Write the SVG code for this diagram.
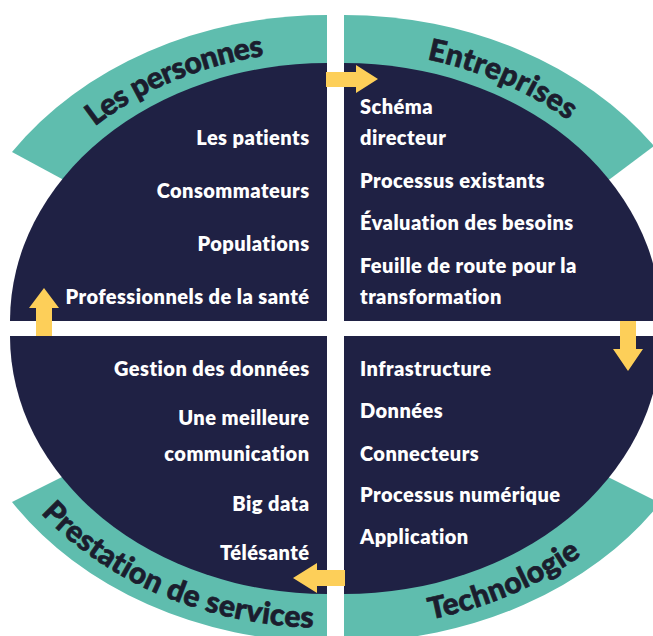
<svg xmlns="http://www.w3.org/2000/svg" width="653" height="636" viewBox="0 0 653 636">
  <style>
    .band { fill: #5fbdae; }
    .core { fill: #1f2144; }
    .item { fill: #ffffff; font-family: Lato, "Liberation Sans", sans-serif; font-weight: 800; font-size: 20px; letter-spacing: 0.45px; }
    .left { text-anchor: end; }
    .title { fill: #1b1d2e; stroke: #1b1d2e; stroke-width: 0.7px; font-family: Lato, "Liberation Sans", sans-serif; font-weight: 900; font-size: 30px; letter-spacing: 0.4px; }
    .arrow { fill: #fdcf59; }
  </style>
  <defs>
    <!-- baselines for the curved titles -->
    <path id="arc-tl" d="M36.9,186 A335,270 0 0 1 350.4,51.7"/>
    <path id="arc-tr" d="M320.6,51.7 A335,270 0 0 1 634.1,186"/>
    <path id="arc-bl" d="M15.2,482 A360,292 0 0 0 352.1,627.3"/>
    <path id="arc-br" d="M318.9,627.3 A360,292 0 0 0 655.8,482"/>
  </defs>
  <rect width="653" height="636" fill="#ffffff"/>

  <!-- top-left quadrant -->
  <g id="les-personnes">
    <path class="band" d="M327,321 L327,15 A378,306 0 0 0 12,152 L62,179 Z"/>
    <path class="core" d="M327,321 L10,321 A317,258 0 0 1 327,63 Z"/>
    <text class="title" style="letter-spacing:-0.4px"><textPath href="#arc-tl" startOffset="49.5%" text-anchor="middle">Les personnes</textPath></text>
    <text class="item left" x="309.5" y="145">Les patients</text>
    <text class="item left" x="309.5" y="198">Consommateurs</text>
    <text class="item left" x="309.5" y="251">Populations</text>
    <text class="item left" x="309.5" y="304">Professionnels de la santé</text>
  </g>

  <!-- top-right quadrant -->
  <g id="entreprises">
    <path class="band" d="M344,321 L344,15 A378,306 0 0 1 654,146 L610,179 Z"/>
    <path class="core" d="M344,321 L344,63 A317,258 0 0 1 661,321 Z"/>
    <text class="title"><textPath href="#arc-tr" startOffset="52%" text-anchor="middle">Entreprises</textPath></text>
    <text class="item" x="360" y="114">Schéma</text>
    <text class="item" x="360" y="145">directeur</text>
    <text class="item" x="360" y="188">Processus existants</text>
    <text class="item" x="360" y="230">Évaluation des besoins</text>
    <text class="item" x="360" y="273">Feuille de route pour la</text>
    <text class="item" x="360" y="304">transformation</text>
  </g>

  <!-- bottom-right quadrant -->
  <g id="technologie">
    <path class="band" d="M344,336 L344,642 A378,306 0 0 0 660,503 L610,478 Z"/>
    <path class="core" d="M344,336 L661,336 A317,258 0 0 1 344,594 Z"/>
    <text class="title"><textPath href="#arc-br" startOffset="51%" text-anchor="middle">Technologie</textPath></text>
    <text class="item" x="360" y="376">Infrastructure</text>
    <text class="item" x="360" y="418">Données</text>
    <text class="item" x="360" y="461">Connecteurs</text>
    <text class="item" x="360" y="502">Processus numérique</text>
    <text class="item" x="360" y="544">Application</text>
  </g>

  <!-- bottom-left quadrant -->
  <g id="prestation-de-services">
    <path class="band" d="M327,336 L327,642 A378,306 0 0 1 12,502 L62,477 Z"/>
    <path class="core" d="M327,336 L10,336 A317,258 0 0 0 327,594 Z"/>
    <text class="title"><textPath href="#arc-bl" startOffset="50.3%" text-anchor="middle">Prestation de services</textPath></text>
    <text class="item left" x="309.5" y="376">Gestion des données</text>
    <text class="item left" x="309.5" y="425">Une meilleure</text>
    <text class="item left" x="309.5" y="461">communication</text>
    <text class="item left" x="309.5" y="511">Big data</text>
    <text class="item left" x="309.5" y="560">Télésanté</text>
  </g>

  <!-- cycle arrows between the quadrants -->
  <g id="connectors">
    <polygon class="arrow" points="326,72 356,72 356,65 378,79 356,93 356,87 326,87"/>
    <polygon class="arrow" points="620,321 636,321 636,349 643,349 628,371 613,349 620,349"/>
    <polygon class="arrow" points="345,570 317,570 317,563 293,578 317,593 317,586 345,586"/>
    <polygon class="arrow" points="36,336 36,308 29,308 44,288 59,308 52,308 52,336"/>
  </g>
</svg>
